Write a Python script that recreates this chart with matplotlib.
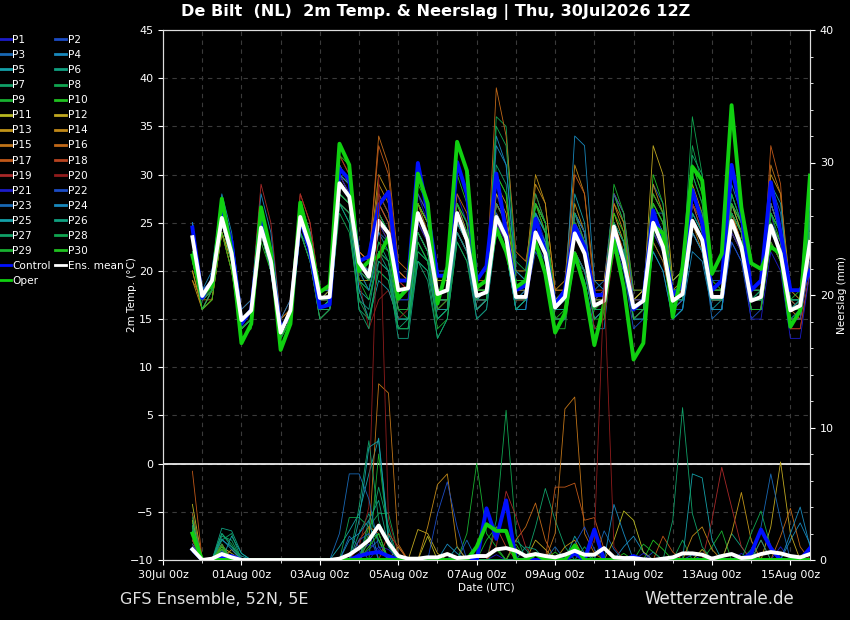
import pandas as pd
import matplotlib
matplotlib.use("Agg")
import matplotlib.pyplot as plt
import matplotlib.dates as mdates
from matplotlib.lines import Line2D

# 6-hourly steps from 30Jul 18z to 15Aug 12z
times = pd.date_range("2026-07-30 18:00", periods=64, freq="6h")
tick_days = pd.date_range("2026-07-30", periods=9, freq="2D")

# 2m temperature, degC
ens_mean = [23.5, 17.4, 19.0, 25.5, 21.8, 14.9, 15.9, 24.5, 21.0, 13.6, 15.9, 25.6, 22.5, 17.2, 17.3, 29.1,
            27.7, 20.9, 19.4, 25.2, 23.9, 18.0, 18.2, 26.0, 23.5, 17.6, 18.0, 26.0, 23.2, 17.4, 17.8, 25.6,
            23.5, 17.3, 17.3, 24.0, 21.8, 16.2, 17.3, 23.9, 21.8, 16.4, 16.9, 24.6, 21.0, 16.2, 16.9, 25.0,
            22.5, 16.9, 17.6, 25.2, 23.2, 17.3, 17.3, 25.2, 22.5, 16.9, 17.3, 24.7, 21.8, 15.9, 16.4, 23.0]
control = [24.5, 17.2, 19.0, 26.5, 23.0, 14.5, 16.0, 25.3, 21.0, 14.0, 15.5, 25.5, 22.0, 16.2, 16.5, 30.6,
           29.5, 21.0, 21.5, 26.8, 28.2, 19.0, 19.0, 31.2, 26.0, 19.5, 19.5, 31.3, 28.0, 19.0, 20.5, 30.1,
           24.0, 18.0, 18.5, 25.4, 22.0, 16.5, 18.0, 24.7, 22.5, 17.5, 17.5, 23.9, 21.0, 16.0, 17.0, 26.3,
           23.0, 17.5, 18.5, 28.4, 25.0, 18.0, 19.0, 31.0, 26.0, 18.0, 19.0, 29.2, 24.0, 18.0, 18.0, 20.0]
oper = [21.6, 17.5, 18.5, 27.5, 22.0, 12.5, 14.5, 26.6, 22.0, 11.8, 14.5, 27.1, 23.0, 17.8, 18.5, 33.2,
        31.0, 20.0, 21.0, 21.5, 23.5, 17.1, 18.3, 30.1, 27.0, 16.6, 20.4, 33.4, 30.4, 18.3, 19.0, 24.4,
        22.0, 18.3, 19.0, 23.0, 19.7, 13.6, 15.6, 21.8, 18.3, 12.3, 16.6, 23.2, 18.3, 10.8, 12.5, 24.7,
        23.9, 15.2, 20.4, 30.8, 29.4, 19.7, 21.8, 37.2, 26.6, 20.8, 20.2, 22.5, 21.8, 14.2, 15.9, 29.9]

t01 = [24, 17,19,26,22, 15,16,25,21, 14,16,25,22, 17,17,30,28, 21,20,27,25, 19,19,28,25, 19,19,28,25, 18,19,28,25, 18,18,26,23, 17,18,26,23, 17,17,24,21, 16,17,26,23, 17,18,27,24, 18,18,28,25, 18,18,26,22, 16,17,24]
t02 = [25, 18,19,27,23, 15,16,26,22, 14,16,26,23, 18,18,31,29, 22,21,28,26, 20,19,30,27, 20,20,27,24, 18,18,25,22, 16,17,22,20, 15,15,22,20, 15,16,23,20, 14,15,22,20, 15,16,24,22, 16,16,23,21, 15,16,27,24, 17,16,21]
t03 = [23, 17,18,25,21, 14,15,24,20, 13,15,25,22, 16,17,28,27, 20,19,24,23, 17,17,25,23, 17,17,24,22, 16,17,25,23, 16,16,25,23, 16,17,26,24, 18,19,28,25, 17,18,29,27, 19,20,30,27, 19,19,27,24, 17,18,29,26, 18,18,25]
t04 = [24, 17,19,26,22, 15,16,26,22, 14,16,27,24, 17,18,30,29, 21,19,24,22, 16,16,24,22, 17,17,25,23, 17,18,33,31, 19,19,25,23, 15,15,21,19, 14,14,24,22, 17,18,26,23, 15,16,22,21, 16,16,24,22, 17,17,23,21, 15,15,22]
t05 = [25, 18,19,27,23, 15,16,25,21, 14,15,25,22, 16,16,27,26, 18,17,21,20, 15,15,23,21, 16,16,25,23, 16,17,24,22, 17,18,26,24, 16,17,28,25, 16,16,23,21, 17,18,24,22, 16,17,25,23, 16,17,26,24, 17,17,24,22, 15,16,22]
t06 = [22, 17,18,25,21, 14,15,24,20, 13,15,24,21, 16,16,28,27, 19,18,23,21, 14,14,22,21, 16,16,25,23, 17,17,27,25, 16,17,27,25, 17,17,25,23, 17,17,24,21, 15,16,24,22, 16,17,26,24, 17,17,28,25, 17,18,25,23, 17,17,25]
t07 = [22, 16,18,25,21, 14,15,24,20, 13,15,25,22, 16,16,27,25, 16,15,20,19, 14,15,21,19, 13,15,24,22, 18,18,31,29, 18,19,25,23, 17,17,21,20, 16,16,22,20, 15,16,23,21, 18,18,32,30, 18,18,26,23, 16,16,23,21, 16,17,24]
t08 = [23, 17,18,26,22, 15,16,25,21, 14,16,26,23, 17,17,28,27, 19,18,22,21, 15,15,23,21, 15,16,24,22, 18,18,36,35, 20,19,26,24, 17,18,25,22, 16,16,23,21, 16,17,25,23, 19,20,36,30, 20,20,27,24, 17,18,27,24, 18,18,28]
t09 = [21, 17,18,25,21, 14,15,24,21, 13,15,26,23, 17,17,29,28, 20,18,23,22, 16,15,23,21, 14,15,23,21, 16,17,26,24, 16,17,23,21, 14,14,22,20, 15,16,24,22, 16,16,26,24, 17,18,31,28, 18,19,28,25, 17,17,26,24, 18,18,30]
t10 = [22, 17,19,27,23, 15,16,26,22, 14,16,27,24, 18,18,32,31, 22,21,28,26, 19,19,29,27, 19,19,30,27, 17,17,26,23, 17,18,27,25, 15,16,26,24, 17,17,28,25, 16,16,30,27, 18,18,27,25, 17,17,30,27, 17,17,26,23, 17,17,25]
t11 = [20, 16,18,24,21, 14,15,24,20, 14,15,25,22, 16,16,27,26, 19,19,26,24, 17,18,27,25, 18,18,26,23, 17,18,27,25, 18,18,24,22, 15,15,22,20, 17,18,28,26, 17,18,27,25, 18,18,25,23, 17,17,24,22, 16,16,24,22, 16,17,26]
t12 = [24, 17,19,26,22, 15,16,25,21, 14,16,26,23, 17,18,30,28, 21,20,27,25, 19,19,27,25, 19,19,26,24, 18,18,28,26, 19,19,27,25, 17,18,26,24, 16,17,26,23, 16,17,33,30, 19,20,28,25, 18,18,27,24, 17,17,27,24, 16,16,22]
t13 = [19, 16,17,24,20, 14,15,24,20, 15,16,26,23, 17,17,30,29, 22,21,30,28, 20,19,27,25, 18,18,27,24, 18,19,29,27, 20,20,30,27, 18,18,27,24, 16,16,25,23, 17,18,28,26, 18,19,29,26, 17,17,26,23, 16,16,30,28, 18,17,24]
t14 = [20, 16,17,24,21, 14,15,25,21, 14,15,26,23, 17,17,29,28, 21,20,29,27, 19,19,27,24, 17,17,25,23, 17,17,27,25, 19,19,29,27, 18,19,31,28, 19,19,27,24, 17,17,29,26, 18,18,25,22, 16,16,26,24, 17,17,25,23, 15,15,21]
t15 = [19, 17,17,24,20, 14,15,24,20, 13,15,24,21, 15,16,28,27, 20,19,25,23, 16,16,24,22, 16,17,25,23, 17,17,26,24, 17,17,24,22, 16,16,25,23, 16,17,27,25, 18,18,26,24, 16,17,27,25, 17,17,26,24, 17,17,31,28, 16,15,24]
t16 = [21, 17,18,25,21, 15,16,26,22, 15,16,27,24, 18,18,31,29, 22,21,34,31, 21,20,28,26, 18,18,28,26, 19,19,39,34, 22,21,27,24, 18,18,26,23, 17,17,25,22, 16,17,25,23, 18,18,27,24, 17,17,27,25, 18,18,27,24, 17,16,23]
t17 = [22, 17,18,25,22, 15,16,26,22, 14,16,27,24, 18,18,32,30, 22,21,33,30, 20,19,26,24, 17,17,25,23, 16,17,25,23, 17,17,24,22, 16,17,30,28, 18,18,25,22, 15,16,23,21, 16,17,28,25, 18,18,26,23, 16,16,33,29, 14,14,20]
t18 = [23, 17,18,26,22, 15,16,25,21, 14,16,28,25, 18,18,31,29, 21,20,27,25, 19,18,26,24, 17,17,24,22, 17,17,27,25, 18,19,28,25, 17,17,22,20, 15,16,25,23, 17,17,26,24, 17,18,24,22, 17,17,25,23, 16,16,23,21, 15,15,22]
t19 = [24, 18,19,27,23, 16,17,29,25, 15,17,28,25, 18,18,32,30, 21,20,28,26, 19,18,25,23, 16,16,24,22, 16,17,27,25, 17,17,25,23, 17,17,24,22, 17,18,28,26, 18,18,24,22, 16,17,24,22, 17,17,27,25, 17,17,23,21, 14,14,20]
t20 = [23, 17,18,26,22, 15,16,25,21, 14,16,26,23, 17,17,30,28, 19,14,17,18, 15,16,24,22, 16,17,25,23, 17,17,25,23, 17,17,24,22, 16,16,24,22, 14,15,22,21, 15,16,25,23, 16,17,27,25, 17,17,24,22, 16,16,24,22, 16,16,23]
t21 = [24, 18,19,27,23, 15,16,25,21, 14,16,26,23, 17,17,30,28, 20,19,25,23, 17,17,25,23, 17,17,26,24, 17,17,25,23, 16,16,23,21, 15,15,22,20, 15,16,24,22, 15,16,24,22, 16,17,25,23, 16,16,24,22, 15,15,22,20, 13,13,20]
t22 = [25, 18,19,27,23, 15,16,26,22, 14,16,26,23, 18,18,31,29, 21,20,26,24, 18,18,28,26, 18,18,27,25, 17,17,26,24, 17,18,26,24, 16,16,26,24, 17,18,28,26, 17,17,26,23, 16,16,24,22, 16,16,23,21, 16,16,24,22, 15,15,21]
t23 = [24, 17,19,26,22, 14,15,24,20, 13,15,25,22, 16,17,29,28, 20,18,22,21, 16,16,24,22, 15,16,24,22, 15,16,24,22, 16,17,25,23, 14,15,26,24, 16,16,25,23, 15,15,26,24, 16,17,25,23, 15,16,25,23, 16,16,27,24, 16,17,24]
t24 = [25, 18,20,28,24, 16,17,28,24, 15,17,27,24, 18,18,30,29, 21,20,26,24, 18,18,26,24, 17,17,25,23, 17,18,34,31, 20,19,25,23, 16,17,34,33, 19,18,24,22, 16,16,26,26, 17,17,26,24, 17,17,29,26, 18,18,26,24, 17,17,27]
t25 = [24, 17,19,26,22, 15,16,26,22, 14,16,25,22, 16,17,28,27, 18,15,19,18, 15,15,24,22, 16,16,25,23, 16,17,24,22, 16,16,26,24, 16,16,24,22, 16,16,23,21, 15,15,22,20, 15,16,24,22, 16,16,27,25, 17,17,29,27, 17,17,27]
t26 = [23, 17,18,25,21, 14,15,24,20, 13,15,24,21, 15,16,27,25, 17,16,22,20, 13,13,21,20, 15,16,24,22, 16,17,27,25, 17,17,24,22, 16,16,22,20, 15,16,25,23, 16,17,26,24, 17,17,26,24, 17,17,25,23, 16,16,24,22, 16,17,26]
t27 = [22, 16,18,25,21, 14,15,24,20, 13,15,24,22, 16,16,27,26, 16,14,21,20, 14,14,21,20, 13,15,23,21, 15,16,24,22, 16,17,27,25, 17,17,25,23, 16,17,25,23, 16,16,25,23, 17,17,28,26, 17,17,26,24, 17,17,25,23, 16,16,25]
t28 = [24, 17,18,25,21, 14,15,24,20, 13,15,24,21, 15,16,26,24, 17,15,20,19, 14,14,22,21, 15,16,27,25, 18,18,35,33, 21,20,28,25, 17,17,26,23, 16,16,24,22, 16,16,27,25, 18,18,33,29, 18,18,26,24, 17,17,26,24, 17,17,26]
t29 = [22, 17,18,25,21, 14,15,25,21, 14,16,26,23, 17,17,28,27, 19,17,22,21, 16,16,24,22, 16,17,26,24, 17,17,30,28, 19,19,27,25, 17,17,25,23, 16,17,29,26, 18,18,28,26, 18,18,30,27, 18,18,30,27, 18,18,26,24, 17,18,28]
t30 = [21, 16,17,24,20, 13,14,23,20, 13,15,25,22, 16,17,29,28, 20,19,26,24, 18,18,27,25, 17,17,27,25, 18,18,30,28, 19,19,27,24, 15,15,24,22, 15,15,26,24, 15,16,27,25, 18,18,31,28, 19,18,27,25, 16,16,23,21, 16,16,24]

# 6h precipitation, mm  (step index -> amount, other steps dry)
rain_mean = [0.8, 0.0, 0.1, 0.45, 0.2, 0, 0, 0, 0, 0, 0, 0, 0, 0, 0, 0.1,
             0.4, 0.9, 1.5, 2.6, 1.3, 0.3, 0.1, 0.1, 0.2, 0.2, 0.45, 0.15, 0.2, 0.3, 0.3, 0.8,
             0.9, 0.7, 0.3, 0.45, 0.3, 0.2, 0.4, 0.7, 0.4, 0.4, 0.9, 0.2, 0.15, 0.15, 0.05, 0.0,
             0.1, 0.2, 0.5, 0.5, 0.4, 0.1, 0.3, 0.45, 0.15, 0.2, 0.45, 0.6, 0.5, 0.3, 0.2, 0.45]
rain_control = {0: 0.8, 3: 0.3, 4: 0.3, 17: 0.3, 18: 0.5, 19: 0.6, 20: 0.3, 30: 3.9, 31: 1.6, 32: 4.5,
                39: 0.5, 41: 2.3, 45: 0.3, 57: 0.5, 58: 2.3, 59: 0.9, 63: 0.9}
rain_oper = {0: 2.0, 29: 1.0, 30: 2.7, 31: 2.2, 32: 2.2, 35: 0.45, 39: 1.1}

r01 = {0: 0.6, 3: 0.3, 17: 0.5, 18: 1.2, 19: 0.8, 31: 0.4, 39: 0.6, 56: 0.5}
r02 = {0: 1.0, 18: 0.8, 19: 1.5, 47: 0.6, 51: 0.4}
r03 = {0: 1.5, 4: 0.3, 16: 1.8, 17: 1.0, 28: 1.5, 42: 2.2, 43: 0.8}
r04 = {0: 1.8, 3: 0.6, 26: 1.2, 27: 0.5, 44: 1.0, 45: 1.8, 46: 0.6, 61: 1.5, 62: 2.8, 63: 1.2}
r05 = {0: 2.2, 3: 1.5, 4: 1.0, 5: 0.3, 15: 1.0, 16: 2.2, 17: 3.5, 18: 6.5, 19: 9.2, 20: 2.0, 27: 1.0, 39: 1.8, 40: 0.5}
r06 = {0: 2.5, 3: 2.4, 4: 2.2, 5: 0.5, 17: 2.0, 18: 3.5, 19: 1.5, 33: 1.5, 34: 0.8, 55: 2.0, 56: 1.0}
r07 = {0: 2.8, 3: 1.8, 4: 1.5, 18: 2.0, 19: 5.5, 20: 2.5, 35: 2.5, 36: 5.4, 37: 3.0, 38: 1.0, 57: 0.8}
r08 = {0: 3.5, 3: 2.0, 4: 1.2, 16: 3.2, 17: 3.2, 18: 2.5, 19: 3.5, 20: 3.5, 21: 0.5, 31: 3.0, 32: 11.3, 33: 2.0, 50: 1.5}
r09 = {0: 3.0, 3: 1.0, 19: 8.0, 20: 1.5, 28: 2.0, 29: 7.3, 30: 2.0, 31: 1.0, 53: 1.0, 54: 2.2}
r10 = {0: 2.0, 3: 0.8, 18: 2.5, 19: 1.5, 31: 0.8, 44: 0.5, 47: 1.5, 48: 0.8}
r11 = {0: 4.2, 3: 1.0, 4: 0.5, 21: 1.0, 24: 1.8, 43: 1.5, 44: 3.7, 45: 3.0, 46: 0.6, 52: 0.8}
r12 = {0: 3.0, 3: 0.8, 23: 2.3, 24: 2.0, 25: 0.5, 35: 1.5, 36: 0.8, 59: 2.5, 60: 7.4, 61: 2.0}
r13 = {0: 2.5, 3: 1.2, 38: 1.0, 39: 1.5, 55: 2.0, 56: 5.1, 57: 1.5}
r14 = {0: 1.5, 4: 0.8, 24: 2.5, 25: 5.7, 26: 6.5, 27: 1.0, 51: 1.8, 52: 2.5, 53: 0.8}
r15 = {0: 2.0, 18: 1.5, 19: 13.3, 20: 12.6, 21: 1.2, 37: 2.0, 38: 11.4, 39: 12.3, 40: 2.0, 41: 0.5}
r16 = {0: 1.2, 3: 0.5, 33: 1.5, 34: 2.5, 35: 4.3, 36: 1.5, 60: 1.8, 61: 3.9, 62: 1.0}
r17 = {0: 6.7, 3: 1.2, 17: 1.5, 18: 2.5, 19: 2.0, 37: 5.5, 38: 5.5, 39: 5.8, 40: 3.0, 41: 3.2, 42: 0.8, 48: 1.8, 49: 0.6}
r18 = {0: 3.5, 3: 0.5, 20: 2.0, 21: 1.0, 31: 2.5, 32: 1.0, 58: 1.5}
r19 = {0: 1.5, 31: 1.0, 32: 5.2, 33: 3.3, 34: 1.0, 53: 3.0, 54: 7.0, 55: 4.0, 56: 1.0}
r20 = {0: 1.0, 17: 1.0, 18: 4.0, 19: 29.0, 20: 3.0, 21: 0.5, 41: 1.5, 42: 21.0, 43: 1.0}
r21 = {0: 0.8, 19: 1.0, 20: 0.8, 46: 0.5, 60: 1.0}
r22 = {0: 1.2, 3: 0.5, 17: 1.5, 18: 2.0, 25: 3.5, 26: 5.9, 27: 2.5, 39: 1.2, 40: 2.5, 41: 0.8}
r23 = {0: 1.8, 3: 0.7, 15: 2.0, 16: 6.5, 17: 6.5, 18: 4.6, 19: 1.0, 37: 1.0, 58: 2.5, 59: 6.5, 60: 3.0}
r24 = {0: 2.0, 3: 1.6, 4: 0.8, 16: 1.5, 17: 2.0, 18: 3.0, 43: 4.2, 44: 2.0, 61: 2.0, 62: 4.0, 63: 1.0}
r25 = {0: 2.6, 4: 1.8, 5: 0.5, 17: 3.0, 18: 8.5, 19: 9.0, 20: 1.5, 51: 6.5, 52: 6.2, 53: 1.5}
r26 = {0: 2.2, 3: 2.0, 4: 1.0, 18: 3.0, 19: 4.5, 20: 1.0, 34: 1.0, 35: 0.8, 58: 1.5}
r27 = {0: 2.4, 3: 1.5, 4: 2.0, 17: 4.0, 18: 9.0, 19: 3.0, 20: 1.0, 49: 3.0, 50: 11.5, 51: 3.5, 52: 1.0}
r28 = {0: 3.2, 3: 1.2, 18: 1.5, 19: 2.0, 40: 1.0, 57: 2.0, 58: 3.7, 59: 1.0}
r29 = {0: 2.5, 3: 0.8, 30: 1.5, 31: 2.5, 32: 2.0, 46: 1.2, 47: 0.6}
r30 = {0: 2.0, 3: 1.0, 18: 1.0, 19: 2.0, 33: 1.2, 37: 0.6}

temps = [t01, t02, t03, t04, t05, t06, t07, t08, t09, t10, t11, t12, t13, t14, t15,
         t16, t17, t18, t19, t20, t21, t22, t23, t24, t25, t26, t27, t28, t29, t30]
rains = [r01, r02, r03, r04, r05, r06, r07, r08, r09, r10, r11, r12, r13, r14, r15,
         r16, r17, r18, r19, r20, r21, r22, r23, r24, r25, r26, r27, r28, r29, r30]

# colour cycle of the members, P21..P30 repeat P1..P10
member_colors = ['#1c1cc8', '#1c4cc4', '#1868b4', '#1888bc', '#14a0a8', '#10a080', '#10a068',
                 '#10a450', '#18b030', '#20c020', '#b8b820', '#c0a820', '#c09418', '#c08818',
                 '#c07418', '#c06818', '#c05818', '#b84420', '#a82828', '#901c1c']


def full(d):
    return [d.get(k, 0.0) for k in range(len(times))]


for i, t in enumerate(temps):
    assert len(t) == len(times), f"P{i+1} has {len(t)} values"

fig = plt.figure(figsize=(8.5, 6.2), dpi=100, facecolor='black')
ax = fig.add_axes([163/850, 1 - 560/620, 647/850, 530/620], facecolor='black')
ax2 = ax.twinx()

for i, t in enumerate(temps):
    c = member_colors[i % 20]
    ax.plot(times, t, color=c, lw=0.6, zorder=2)
    ax2.plot(times, full(rains[i]), color=c, lw=0.6, zorder=2)

ax.plot(times, control, color='#0010ff', lw=2.8, zorder=4)
ax.plot(times, oper, color='#10d010', lw=2.8, zorder=5)
ax.plot(times, ens_mean, color='white', lw=2.8, zorder=6)
ax2.plot(times, full(rain_control), color='#0010ff', lw=2.8, zorder=4)
ax2.plot(times, full(rain_oper), color='#10d010', lw=2.8, zorder=5)
ax2.plot(times, rain_mean, color='white', lw=2.8, zorder=6)

ax.axhline(0, color='white', lw=1.2, zorder=3)

ax.set_ylim(-10, 45)
ax2.set_ylim(0, 40)
ax.set_xlim(pd.Timestamp("2026-07-30 00:00"), pd.Timestamp("2026-08-15 12:00"))
ax.set_yticks(range(-10, 46, 5))
ax2.set_yticks(range(0, 41, 10))
ax2.set_yticks(range(0, 41, 2), minor=True)

ax.set_xticks(tick_days)
ax.set_xticklabels([d.strftime('%d%b %Hz') for d in tick_days])
ax.xaxis.set_minor_locator(mdates.DayLocator())

ax.grid(True, which='both', axis='x', color='#3a3a3a', ls=(0, (4, 4)), lw=0.8)
ax.grid(True, which='major', axis='y', color='#3a3a3a', ls=(0, (4, 4)), lw=0.8)
ax.set_axisbelow(True)

for a in (ax, ax2):
    for s in a.spines.values():
        s.set_color('#dddddd')
    a.tick_params(colors='white', labelsize=8, which='both')
ax.tick_params(axis='x', labelsize=7.5, which='minor', length=2)

ax.set_ylabel('2m Temp. (°C)', color='white', fontsize=7.5)
ax.yaxis.set_label_coords(-0.04, 0.5)
ax2.set_ylabel('Neerslag (mm)', color='white', fontsize=7.5, labelpad=2)
ax.set_xlabel('Date (UTC)', color='white', fontsize=7.5, labelpad=2)

fig.text(0.512, 1 - 12/620, 'De Bilt  (NL)  2m Temp. & Neerslag | Thu, 30Jul2026 12Z',
         color='white', fontsize=11.6, fontweight='bold', ha='center', va='center')
fig.text(120/850, 1 - 599/620, 'GFS Ensemble, 52N, 5E', color='#e0e0e0', fontsize=11.5,
         ha='left', va='center')
fig.text(794/850, 1 - 599/620, 'Wetterzentrale.de', color='#e0e0e0', fontsize=12,
         ha='right', va='center')

# legend: two columns filled row by row like the original
names = [f'P{k}' for k in range(1, 31)]
handles = [Line2D([], [], color=member_colors[k % 20], lw=2) for k in range(30)]
h_ctrl = Line2D([], [], color='#0010ff', lw=2)
h_oper = Line2D([], [], color='#10d010', lw=2)
h_mean = Line2D([], [], color='white', lw=2)
col1_h = handles[0::2] + [h_ctrl, h_oper]
col1_l = names[0::2] + ['Control', 'Oper']
col2_h = handles[1::2] + [h_mean]
col2_l = names[1::2] + ['Ens. mean']
leg = fig.legend(col1_h + col2_h, col1_l + col2_l, loc='upper left', ncol=2,
                 bbox_to_anchor=(0, 1 - 35/620), frameon=False, fontsize=7.6,
                 labelspacing=0.48, handlelength=1.0, handletextpad=0.15,
                 columnspacing=0.45, borderaxespad=0, borderpad=0)
for txt in leg.get_texts():
    txt.set_color('white')

fig.savefig('out.png', dpi=100, facecolor='black')
